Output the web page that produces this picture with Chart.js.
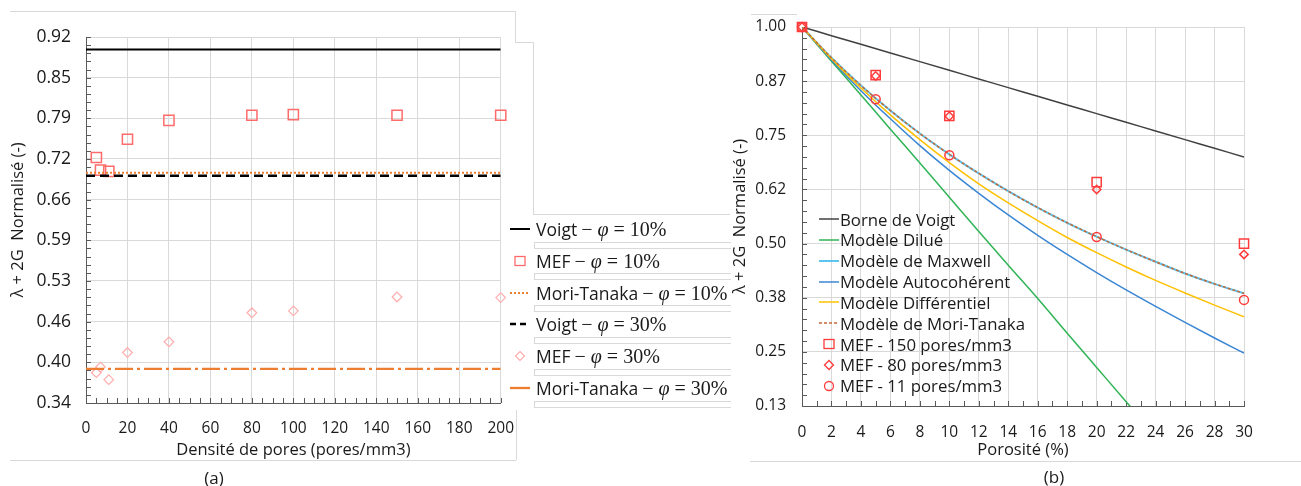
<!DOCTYPE html>
<html lang="fr">
<head>
<meta charset="utf-8">
<title>λ + 2G normalisé</title>
<script src="https://cdn.jsdelivr.net/npm/chart.js@4.4.1/dist/chart.umd.min.js"></script>
<style>
  html, body { margin: 0; padding: 0; background: #fff; }
  body { width: 1301px; height: 486px; position: relative; overflow: hidden; font-family: 'Open Sans', sans-serif; color: #1a1a1a; }
  canvas { position: absolute; top: 0; }
  #chartA { left: 0; }
  #chartB { left: 726px; }
  .ln { position: absolute; border: 0 solid #d9d9d9; }
  .leg { position: absolute; display: flex; align-items: center; white-space: nowrap; height: 24px; }
  .leg svg { flex: none; }
  .m { font-family: 'Liberation Serif', serif; font-size: 20px; }
  .op { margin: 0 0.25em; }
  .cap { position: absolute; font-size: 17px; transform: translate(-50%, -50%); }
</style>
</head>
<body>
<canvas id="chartA" width="530" height="486"></canvas>
<canvas id="chartB" width="575" height="486"></canvas>
<div id="legA"></div>
<div id="legB"></div>
<div class="cap" style="left:214px; top:477px;">(a)</div>
<div class="cap" style="left:1054px; top:476px;">(b)</div>

<!-- cadres gris des graphiques Excel -->
<div class="ln" style="left:10px; top:11px; width:505px; border-top-width:1px;"></div>
<div class="ln" style="left:515px; top:11px; height:31px; border-left-width:1px;"></div>
<div class="ln" style="left:515px; top:42px; width:18px; border-top-width:1px;"></div>
<div class="ln" style="left:533px; top:42px; height:172px; border-left-width:1px;"></div>
<div class="ln" style="left:533px; top:214px; width:197px; border-top-width:1px;"></div>
<div class="ln" style="left:10px; top:460px; width:506px; border-top-width:1px;"></div>
<div class="ln" style="left:516px; top:410px; height:50px; border-left-width:1px;"></div>
<div class="ln" style="left:751px; top:14px; width:46px; border-top-width:1px;"></div>
<div class="ln" style="left:750px; top:461px; width:551px; border-top-width:1px;"></div>

<script>
// ---- (a) : lambda + 2G normalisé vs densité de pores ----
const densite = [5, 7, 11, 20, 40, 80, 100, 150, 200];
const mef10 = [0.729, 0.709, 0.707, 0.758, 0.788, 0.796, 0.797, 0.796, 0.796];
const mef30 = [0.388, 0.397, 0.377, 0.420, 0.437, 0.483, 0.486, 0.508, 0.507];
const bornesX = [0, 200];
const voigt10 = [0.900, 0.900];
const moriTanaka10 = [0.705, 0.705];
const voigt30 = [0.700, 0.700];
const moriTanaka30 = [0.394, 0.394];
const yLabelsA = ['0.34', '0.40', '0.46', '0.53', '0.59', '0.66', '0.72', '0.79', '0.85', '0.92'];
const yMinA = 0.34, yMaxA = 0.92;

// ---- (b) : lambda + 2G normalisé vs porosité ----
const porosite = [0, 2, 4, 6, 8, 10, 12, 14, 16, 18, 20, 22, 24, 26, 28, 30];
const borneVoigt = [1.000, 0.980, 0.960, 0.940, 0.920, 0.900, 0.880, 0.860, 0.840, 0.820, 0.800, 0.780, 0.760, 0.740, 0.720, 0.700];
const dilue = [1.000, 0.921, 0.843, 0.764, 0.686, 0.607, 0.528, 0.450, 0.373, 0.293, 0.214, 0.135, 0.057];
const maxwell = [1.000, 0.929, 0.865, 0.807, 0.754, 0.706, 0.662, 0.621, 0.583, 0.548, 0.516, 0.486, 0.458, 0.431, 0.407, 0.385];
const autocoherent = [1.000, 0.924, 0.853, 0.788, 0.726, 0.669, 0.616, 0.566, 0.519, 0.475, 0.433, 0.393, 0.355, 0.318, 0.282, 0.247];
const differentiel = [1.000, 0.927, 0.859, 0.797, 0.740, 0.687, 0.638, 0.594, 0.553, 0.514, 0.479, 0.446, 0.415, 0.386, 0.358, 0.331];
const moriTanaka = [1.000, 0.929, 0.865, 0.807, 0.754, 0.706, 0.662, 0.621, 0.583, 0.548, 0.516, 0.486, 0.458, 0.431, 0.407, 0.385];
const porositeMef = [0, 5, 10, 20, 30];
const mef150 = [1.000, 0.889, 0.795, 0.642, 0.500];
const mef80 = [1.000, 0.887, 0.794, 0.625, 0.475];
const mef11 = [1.000, 0.833, 0.704, 0.515, 0.370];
const yLabelsB = ['0.13', '0.25', '0.38', '0.50', '0.62', '0.75', '0.87', '1.00'];
const yMinB = 0.125, yMaxB = 1.0;

const GRID = '#d9d9d9';
const AXIS = '#595959';
const TXT = '#1a1a1a';

Chart.defaults.font.family = "'Open Sans', sans-serif";
Chart.defaults.color = TXT;

function pts(xs, ys) {
    return ys.map((y, i) => ({ x: xs[i], y: y }));
}

// petites graduations (majeures + mineures) dirigées vers l'intérieur
const tickMarks = {
    id: 'tickMarks',
    beforeDatasetsDraw(chart, args, opts) {
        const { ctx, chartArea: a, scales: { x, y } } = chart;
        ctx.save();
        ctx.strokeStyle = AXIS;
        ctx.lineWidth = 1;
        ctx.beginPath();
        for (let v = x.min; v <= x.max + 1e-9; v += opts.xStep) {
            const px = Math.round(x.getPixelForValue(v)) + 0.5;
            ctx.moveTo(px, a.bottom);
            ctx.lineTo(px, a.bottom - 5);
        }
        for (let v = y.min; v <= y.max + 1e-9; v += opts.yStep) {
            const py = Math.round(y.getPixelForValue(v)) + 0.5;
            ctx.moveTo(a.left, py);
            ctx.lineTo(a.left + 5, py);
        }
        ctx.stroke();
        ctx.restore();
    }
};

function lineSet(label, xs, ys, color, width, dash) {
    return {
        label: label, data: pts(xs, ys), showLine: true, pointRadius: 0,
        borderColor: color, borderWidth: width, borderDash: dash || [],
        cubicInterpolationMode: 'monotone', fill: false
    };
}

function markSet(label, xs, ys, style, radius, color, width) {
    return {
        label: label, data: pts(xs, ys), showLine: false, pointStyle: style,
        pointRadius: radius, pointBorderColor: color, pointBackgroundColor: 'rgba(0,0,0,0)',
        pointBorderWidth: width, borderColor: color, clip: false
    };
}

function stackOrder(sets) {
    // Excel dessine les dernières séries au-dessus
    return sets.map((d, i) => Object.assign(d, { order: sets.length - i }));
}

new Chart(document.getElementById('chartA'), {
    type: 'scatter',
    data: {
        datasets: stackOrder([
            lineSet('Voigt − φ = 10%', bornesX, voigt10, '#000000', 2),
            markSet('MEF − φ = 10%', densite, mef10, 'rect', 7.2, '#ff6b6b', 1.5),
            lineSet('Mori-Tanaka − φ = 10%', bornesX, moriTanaka10, '#ed7d31', 2, [2, 2]),
            lineSet('Voigt − φ = 30%', bornesX, voigt30, '#000000', 2.5, [9, 5]),
            markSet('MEF − φ = 30%', densite, mef30, 'rectRot', 4.8, '#ffadad', 1.2),
            lineSet('Mori-Tanaka − φ = 30%', bornesX, moriTanaka30, '#ed7d31', 2.3, [18, 4, 3, 4])
        ])
    },
    options: {
        responsive: false,
        animation: false,
        layout: { padding: { left: 0, right: 0, top: 37, bottom: 23 } },
        plugins: {
            legend: { display: false },
            tooltip: { enabled: false },
            tickMarks: { xStep: 5, yStep: (yMaxA - yMinA) / 45 }
        },
        scales: {
            x: {
                type: 'linear', min: 0, max: 200,
                ticks: { stepSize: 20, padding: 16, font: { size: 15.5 }, maxRotation: 0 },
                grid: { color: GRID, drawTicks: false },
                border: { color: AXIS },
                title: { display: true, text: 'Densité de pores (pores/mm3)', font: { size: 16.5 }, padding: { top: 0, bottom: 3 } },
                afterFit: s => { s.height = 60; }
            },
            y: {
                type: 'linear', min: yMinA, max: yMaxA,
                afterBuildTicks: s => {
                    s.ticks = yLabelsA.map((_, i) => ({ value: yMinA + i * (yMaxA - yMinA) / (yLabelsA.length - 1) }));
                },
                ticks: { callback: (v, i) => yLabelsA[i], padding: 15, font: { size: 17.5 }, autoSkip: false },
                grid: { color: GRID, drawTicks: false },
                border: { color: AXIS },
                title: { display: true, text: 'λ + 2G  Normalisé (-)', font: { size: 16.5 }, padding: { top: 8, bottom: 0 } },
                afterFit: s => { s.width = 86; }
            }
        }
    },
    plugins: [tickMarks]
});

new Chart(document.getElementById('chartB'), {
    type: 'scatter',
    data: {
        datasets: stackOrder([
            lineSet('Borne de Voigt', porosite, borneVoigt, '#404040', 1.5),
            lineSet('Modèle Dilué', porosite, dilue, '#2fb455', 1.5),
            lineSet('Modèle de Maxwell', porosite, maxwell, '#5bc4f1', 2),
            lineSet('Modèle Autocohérent', porosite, autocoherent, '#3a86d4', 1.5),
            lineSet('Modèle Différentiel', porosite, differentiel, '#ffc000', 1.5),
            lineSet('Modèle de Mori-Tanaka', porosite, moriTanaka, '#c46a35', 1.5, [3, 2]),
            markSet('MEF - 150 pores/mm3', porositeMef, mef150, 'rect', 6.5, '#ff3b3b', 1.5),
            markSet('MEF - 80 pores/mm3', porositeMef, mef80, 'rectRot', 4.2, '#ff3b3b', 1.5),
            markSet('MEF - 11 pores/mm3', porositeMef, mef11, 'circle', 4.5, '#ff3b3b', 1.5)
        ])
    },
    options: {
        responsive: false,
        animation: false,
        layout: { padding: { left: 0, right: 57, top: 27, bottom: 20 } },
        plugins: {
            legend: { display: false },
            tooltip: { enabled: false },
            tickMarks: { xStep: 1, yStep: (yMaxB - yMinB) / 35 }
        },
        scales: {
            x: {
                type: 'linear', min: 0, max: 30,
                ticks: { stepSize: 2, padding: 17, font: { size: 15.5 }, maxRotation: 0 },
                grid: { color: GRID, drawTicks: false },
                border: { color: AXIS },
                title: { display: true, text: 'Porosité (%)', font: { size: 16.5 }, padding: { top: 0, bottom: 6 } },
                afterFit: s => { s.height = 60; }
            },
            y: {
                type: 'linear', min: yMinB, max: yMaxB,
                afterBuildTicks: s => {
                    s.ticks = yLabelsB.map((_, i) => ({ value: yMinB + i * (yMaxB - yMinB) / (yLabelsB.length - 1) }));
                },
                ticks: { callback: (v, i) => yLabelsB[i], padding: 16, font: { size: 15.5 }, autoSkip: false },
                grid: { color: GRID, drawTicks: false },
                border: { color: AXIS },
                title: { display: true, text: 'λ + 2G  Normalisé (-)', font: { size: 16.5 }, padding: { top: 4, bottom: 0 } },
                afterFit: s => { s.width = 76; }
            }
        }
    },
    plugins: [tickMarks]
});

// ---- légendes (HTML) ----
function sample(kind, color, width, dash) {
    if (kind === 'rect') return `<svg width="22" height="14"><rect x="6" y="2.5" width="10" height="9" fill="none" stroke="${color}" stroke-width="${width}"/></svg>`;
    if (kind === 'rectRot') return `<svg width="22" height="14"><polygon points="11,2.5 15.5,7 11,11.5 6.5,7" fill="none" stroke="${color}" stroke-width="${width}"/></svg>`;
    if (kind === 'circle') return `<svg width="22" height="14"><circle cx="11" cy="7" r="4.5" fill="none" stroke="${color}" stroke-width="${width}"/></svg>`;
    return `<svg width="22" height="14"><line x1="1" y1="7" x2="21" y2="7" stroke="${color}" stroke-width="${width}" stroke-dasharray="${dash || ''}"/></svg>`;
}

const legA = [
    ['Voigt', '10%', sample('line', '#000', 2)],
    ['MEF', '10%', sample('rect', '#ff6b6b', 1.3)],
    ['Mori-Tanaka', '10%', sample('line', '#ed7d31', 2, '2 2')],
    ['Voigt', '30%', sample('line', '#000', 2.5, '6 4')],
    ['MEF', '30%', sample('rectRot', '#ffadad', 1.2)],
    ['Mori-Tanaka', '30%', sample('line', '#ed7d31', 2.3)]
];
document.getElementById('legA').innerHTML = legA.map((r, i) => {
    const c = 229 + i * 31.8;
    return `<div class="leg" style="left:509px; top:${c - 12}px; font-size:17.5px;">${r[2]}<span style="margin-left:5px">${r[0]}<span class="m"><span class="op" style="margin-left:0.2em">−</span><i>φ</i><span class="op">=</span>${r[1]}</span></span></div>` +
        `<div class="ln" style="left:534px; top:${c + 12.5}px; width:196px; height:5px; border-width:1px 0 1px 1px;"></div>`;
}).join('');

const legB = [
    ['Borne de Voigt', sample('line', '#404040', 1.5)],
    ['Modèle Dilué', sample('line', '#2fb455', 1.5)],
    ['Modèle de Maxwell', sample('line', '#5bc4f1', 2)],
    ['Modèle Autocohérent', sample('line', '#3a86d4', 1.5)],
    ['Modèle Différentiel', sample('line', '#ffc000', 1.5)],
    ['Modèle de Mori-Tanaka', sample('line', '#c46a35', 1.5, '3 2')],
    ['MEF - 150 pores/mm3', sample('rect', '#ff3b3b', 1.3)],
    ['MEF - 80 pores/mm3', sample('rectRot', '#ff3b3b', 1.3)],
    ['MEF - 11 pores/mm3', sample('circle', '#ff3b3b', 1.3)]
];
document.getElementById('legB').innerHTML = legB.map((r, i) => {
    const c = 219 + i * 20.85;
    return `<div class="leg" style="left:818px; top:${c - 12}px; font-size:16.8px;">${r[1]}<span>${r[0]}</span></div>`;
}).join('');
</script>
</body>
</html>
